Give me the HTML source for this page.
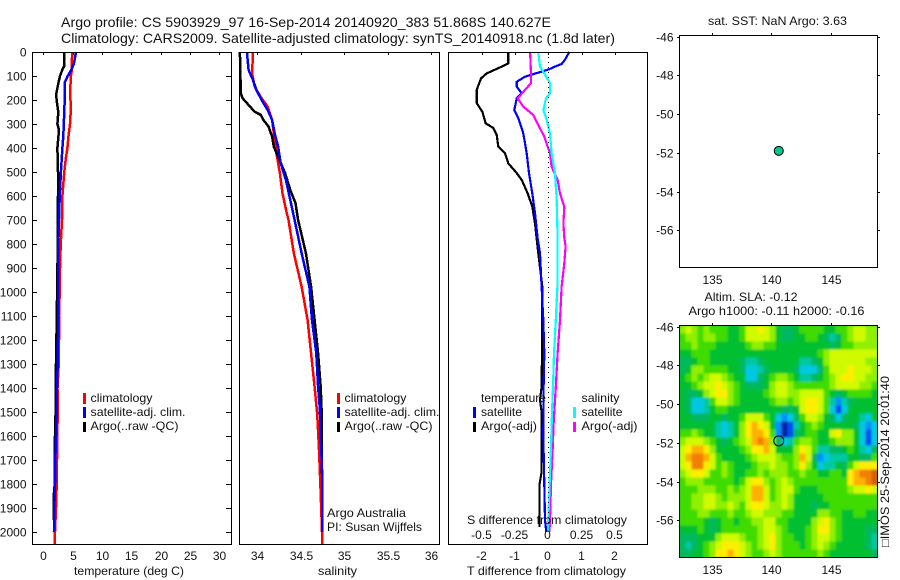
<!DOCTYPE html>
<html lang="en">
<head>
<meta charset="utf-8">
<title>Argo profile chart</title>
<style>
html,body{margin:0;padding:0;background:#fff;}
svg{display:block;font-family:"Liberation Sans",sans-serif;fill:#000;}
text{font-size:12px;fill:#111;}
.t14{font-size:14px;}
.frame{fill:none;stroke:#000;stroke-width:1;shape-rendering:crispEdges;}
.prof{fill:none;stroke-width:2.5;shape-rendering:crispEdges;stroke-linejoin:miter;}
.thin{stroke-width:2.2;}
</style>
</head>
<body>
<svg id="chart" width="900" height="580" viewBox="0 0 900 580" xmlns="http://www.w3.org/2000/svg">
<defs>
<filter id="soft" x="0" y="0" width="100%" height="100%"><feGaussianBlur stdDeviation="1.1"/></filter>
<clipPath id="mapclip"><rect x="679.5" y="325.5" width="198" height="232"/></clipPath>
</defs>

<text class="t14" x="61" y="27" textLength="490" lengthAdjust="spacingAndGlyphs">Argo profile: CS 5903929_97 16-Sep-2014 20140920_383 51.868S 140.627E</text>
<text class="t14" x="61" y="43" textLength="554" lengthAdjust="spacingAndGlyphs">Climatology: CARS2009. Satellite-adjusted climatology: synTS_20140918.nc (1.8d later)</text>

<g id="series1"></g>
<g id="series2"></g>
<g id="series3"></g>
<line x1="548.5" y1="52" x2="548.5" y2="527" stroke="#000" stroke-width="1" stroke-dasharray="1 4"/>

<g id="axes">
<rect class="frame" x="32.5" y="52.5" width="199" height="492"/>
<rect class="frame" x="239.5" y="52.5" width="200" height="492"/>
<rect class="frame" x="448.5" y="52.5" width="199" height="492"/>
</g>

<text x="74" y="575" textLength="110" lengthAdjust="spacingAndGlyphs">temperature (deg C)</text>
<text x="318" y="575" textLength="39" lengthAdjust="spacingAndGlyphs">salinity</text>
<text x="467" y="575" textLength="159" lengthAdjust="spacingAndGlyphs">T difference from climatology</text>
<text x="467" y="524" textLength="160" lengthAdjust="spacingAndGlyphs">S difference from climatology</text>

<g>
<rect x="83" y="393" width="3" height="11" fill="#f00"/>
<rect x="83" y="407" width="3" height="11" fill="#00f"/>
<rect x="83" y="422" width="3" height="10" fill="#000"/>
<text x="90.5" y="402" textLength="62" lengthAdjust="spacingAndGlyphs">climatology</text>
<text x="90.5" y="416" textLength="95" lengthAdjust="spacingAndGlyphs">satellite-adj. clim.</text>
<text x="90.5" y="430" textLength="88" lengthAdjust="spacingAndGlyphs">Argo(..raw -QC)</text>
</g>
<g>
<rect x="337" y="393" width="3" height="11" fill="#f00"/>
<rect x="337" y="407" width="3" height="11" fill="#00f"/>
<rect x="337" y="422" width="3" height="10" fill="#000"/>
<text x="344.5" y="402" textLength="62" lengthAdjust="spacingAndGlyphs">climatology</text>
<text x="344.5" y="416" textLength="95" lengthAdjust="spacingAndGlyphs">satellite-adj. clim.</text>
<text x="344.5" y="430" textLength="88" lengthAdjust="spacingAndGlyphs">Argo(..raw -QC)</text>
<text x="327" y="517" textLength="79" lengthAdjust="spacingAndGlyphs">Argo Australia</text>
<text x="327" y="531" textLength="95" lengthAdjust="spacingAndGlyphs">PI: Susan Wijffels</text>
</g>
<g>
<rect x="473" y="407" width="3" height="11" fill="#00f"/>
<rect x="473" y="422" width="3" height="10" fill="#000"/>
<rect x="573" y="407" width="3" height="11" fill="#0ff"/>
<rect x="573" y="422" width="3" height="10" fill="#f0f"/>
<text x="481" y="402" textLength="65" lengthAdjust="spacingAndGlyphs">temperature</text>
<text x="481" y="416" textLength="41" lengthAdjust="spacingAndGlyphs">satellite</text>
<text x="481" y="430" textLength="56" lengthAdjust="spacingAndGlyphs">Argo(-adj)</text>
<text x="581.5" y="402" textLength="38" lengthAdjust="spacingAndGlyphs">salinity</text>
<text x="581.5" y="416" textLength="41" lengthAdjust="spacingAndGlyphs">satellite</text>
<text x="581.5" y="430" textLength="56" lengthAdjust="spacingAndGlyphs">Argo(-adj)</text>
</g>

<text x="708" y="25" textLength="139" lengthAdjust="spacingAndGlyphs">sat. SST: NaN Argo: 3.63</text>
<rect class="frame" x="679.5" y="35.5" width="198" height="232"/>
<circle id="sstMarker" r="4.5" fill="#00c88c" stroke="#000" stroke-width="1"/>

<text x="704.5" y="301" textLength="93" lengthAdjust="spacingAndGlyphs">Altim. SLA: -0.12</text>
<text x="688.5" y="315" textLength="176" lengthAdjust="spacingAndGlyphs">Argo h1000: -0.11 h2000: -0.16</text>
<g clip-path="url(#mapclip)">
<rect x="670" y="316" width="218" height="250" fill="#00c030"/>
<g id="heat" filter="url(#soft)"></g>
</g>
<rect class="frame" x="679.5" y="325.5" width="198" height="232"/>
<circle id="slaMarker" r="5" fill="none" stroke="#000" stroke-width="1"/>
<text transform="translate(889,547) rotate(-90)" x="0" y="0" textLength="171" lengthAdjust="spacingAndGlyphs">□IMOS 25-Sep-2014 20:01:40</text>
</svg>

<script>
// ---- profile data ----
const depthTicks = [0,100,200,300,400,500,600,700,800,900,1000,1100,1200,1300,1400,1500,1600,1700,1800,1900,2000];
const tempTicks = [0,5,10,15,20,25,30];
const salTicks = [34,34.5,35,35.5,36];
const salTickLabels = ['34','34.5','35','35.5','36'];
const tDiffTicks = [-2,-1,0,1,2];
const tDiffLabels = ['-2','-1','0','1','2'];
const sDiffTicks = [-0.5,-0.25,0,0.25,0.5];
const sDiffLabels = ['-0.5','-0.25','0','0.25','0.5'];
const lonTicks = [135,140,145];
const latTicks = [-46,-48,-50,-52,-54,-56];
const argoLon = 140.627;
const argoLat = -51.868;

const tClimDepth = [0,50,80,100,150,250,300,350,400,450,500,550,600,700,800,900,1000,1100,1200,1300,1400,1500,1600,1700,1800,1900,2000,2050];
const tClimValues = [4.9,4.88,4.83,4.7,4.6,4.67,4.55,4.3,4.1,3.8,3.58,3.4,3.25,3.18,2.96,2.85,2.8,2.67,2.67,2.62,2.42,2.45,2.38,2.33,2.28,2.16,2.0,1.94];
const tSatDepth = [0,50,80,100,125,200,300,350,400,500,600,700,800,1000,1200,1300,1400,1500,1600,1700,1800,1900,2000];
const tSatValues = [5.57,5.2,4.67,4.15,3.7,3.65,3.5,3.4,3.25,3.0,2.8,2.67,2.55,2.55,2.5,2.45,2.33,2.28,2.16,2.05,2.0,1.87,1.82];
const tArgoDepth = [0,60,70,100,125,150,175,200,250,300,325,400,500,600,820,1100,1400,1500,1650,1800,1850,1950];
const tArgoValues = [3.58,3.55,3.3,2.85,2.6,2.4,2.2,2.27,2.55,2.4,2.67,2.4,2.5,2.5,2.45,2.3,2.1,2.1,1.94,1.94,1.77,1.77];

const sClimDepth = [0,89,145,188,228,283,339,422,505,589,672,700,838,978,1117,1256,1396,1508,1646,1838,2050];
const sClimValues = [33.95,33.94,33.97,34.04,34.12,34.17,34.19,34.22,34.26,34.29,34.34,34.36,34.42,34.51,34.58,34.62,34.66,34.69,34.71,34.73,34.75];
const sSatDepth = [0,75,117,158,200,242,283,339,394,464,533,617,700,838,978,1117,1256,1396,1483,1600,1783,2000];
const sSatValues = [33.88,33.9,33.95,33.99,34.05,34.12,34.17,34.2,34.24,34.27,34.33,34.38,34.43,34.51,34.6,34.63,34.68,34.7,34.72,34.73,34.75,34.75];
const sArgoDepth = [0,171,192,221,249,262,283,311,353,394,436,505,575,630,700,838,978,1117,1256,1396,1483,1700,1800,2000];
const sArgoValues = [33.8,33.81,33.83,33.9,33.97,34.04,34.07,34.13,34.17,34.19,34.24,34.32,34.38,34.44,34.47,34.56,34.62,34.66,34.7,34.73,34.74,34.74,34.75,34.75];

const dTArgoDepth = [0,47,61,89,110,158,213,249,297,317,346,394,422,464,499,533,589,644,714,775,838,978,1117,1256,1396,1450,1500,1750,1800,1979];
const dTArgoValues = [-1.2,-1.2,-1.4,-1.85,-2.02,-2.15,-2.15,-1.98,-1.88,-1.65,-1.55,-1.5,-1.3,-1.2,-0.98,-0.8,-0.62,-0.48,-0.4,-0.35,-0.3,-0.18,-0.18,-0.19,-0.2,-0.25,-0.2,-0.2,-0.26,-0.26];
const dTSatDepth = [0,33,50,61,72,82,92,103,124,144,172,193,242,275,339,422,505,589,672,775,838,978,1117,1256,1396,1600,1800,1950,2000];
const dTSatValues = [0.63,0.5,0.4,0.2,0.02,-0.2,-0.45,-0.7,-0.95,-0.95,-0.8,-0.95,-1.02,-0.9,-0.75,-0.65,-0.58,-0.48,-0.4,-0.32,-0.25,-0.2,-0.15,-0.12,-0.14,-0.15,-0.12,-0.1,-0.06];
const dSSatDepth = [0,61,89,130,172,193,242,283,339,422,505,617,775,838,978,1117,1256,1396,1500,1650,1800,1950,2000];
const dSSatValues = [-0.075,-0.062,-0.03,0.013,0.013,-0.017,-0.037,-0.012,0.013,0.025,0.05,0.063,0.07,0.07,0.068,0.056,0.043,0.035,0.028,0.02,0.01,0,-0.002];
const dSArgoDepth = [0,89,130,158,193,228,262,304,353,422,478,533,589,644,714,775,810,880,978,1117,1256,1396,1450,1550,1650,1800,1950,2000];
const dSArgoValues = [-0.137,-0.13,-0.13,-0.175,-0.23,-0.188,-0.113,-0.075,-0.03,0.013,0.025,0.07,0.088,0.12,0.113,0.12,0.13,0.12,0.1,0.088,0.07,0.056,0.05,0.04,0.033,0.02,0.013,0.008];

// ---- SLA grid: colour class per cell, north to south ----
const slaColors = ['#0020a0','#0050f0','#0090ff','#00c8e0','#00c8a0','#00b860','#00c030','#40dc00','#90f000','#d0fa00','#ffee00','#ffb000','#f08000','#d86000'];
const slaGrid = [
[8,9,8,7,8,7,7,7,6,6,7,9,9,10,9,8,6,5,5,6,7,7,7,7,6,6,7,7,8,9,9,8,8],
[7,8,8,7,8,8,7,7,6,6,7,9,9,9,9,8,6,5,5,6,6,7,7,6,5,4,5,7,8,9,9,8,8],
[7,7,8,7,7,7,6,6,6,6,6,7,8,8,7,7,6,6,6,6,6,6,6,6,6,5,6,7,7,8,8,8,8],
[6,6,7,7,7,6,6,6,6,6,6,6,6,6,6,6,6,6,6,6,6,6,6,7,8,9,9,9,9,9,9,9,9],
[5,5,6,7,7,6,6,6,6,6,5,4,4,5,6,6,6,6,6,6,4,4,5,6,8,9,9,9,9,9,9,8,8],
[5,6,8,8,7,7,7,7,6,6,5,3,3,4,5,6,6,6,6,5,3,3,3,5,7,9,9,9,10,9,9,9,8],
[6,7,8,7,8,9,9,8,7,6,6,3,3,5,6,7,8,8,7,6,4,4,5,6,7,8,9,10,10,9,9,8,8],
[6,6,7,8,9,9,10,9,8,7,6,5,5,5,6,8,9,9,8,7,7,7,7,7,7,8,9,9,9,9,8,8,7],
[6,5,5,6,8,9,10,10,8,7,6,6,6,6,7,8,9,9,8,8,9,9,9,9,7,6,5,6,7,7,7,7,6],
[6,5,3,3,4,7,9,9,8,7,6,6,6,6,6,7,8,8,7,8,9,10,10,9,7,4,2,4,5,6,6,6,6],
[6,5,3,3,4,6,7,7,6,6,6,6,6,6,6,6,6,5,5,6,9,10,10,9,7,3,1,3,6,6,6,6,6],
[6,6,5,5,5,6,6,5,6,6,7,9,9,9,7,6,3,2,3,5,7,9,9,8,6,5,3,5,6,6,4,3,6],
[6,6,6,6,6,6,4,3,4,6,8,10,11,10,9,6,2,0,1,4,6,7,8,7,6,6,6,6,6,5,3,2,3],
[7,7,8,7,6,6,4,3,4,6,8,10,11,11,10,7,2,0,1,5,6,7,7,6,6,9,10,8,8,6,3,1,3],
[8,9,9,9,8,7,6,5,6,7,8,9,11,12,11,8,5,3,4,7,8,8,7,6,6,7,8,8,8,6,3,1,3],
[9,10,11,11,10,8,6,6,6,6,7,8,10,10,11,9,6,6,6,8,10,9,7,4,4,5,5,6,7,6,4,3,5],
[9,11,12,12,11,9,7,6,6,6,6,7,8,9,9,9,8,7,7,8,11,9,5,2,3,4,4,4,6,6,5,5,7],
[9,10,12,12,10,9,7,8,7,6,6,6,7,8,8,9,8,8,7,8,10,8,6,3,4,4,6,5,7,9,10,10,10],
[8,9,10,10,9,7,7,8,7,6,6,7,7,8,7,8,8,8,7,7,8,7,7,6,6,7,7,6,10,11,12,12,13],
[7,8,8,8,7,7,7,7,7,6,7,9,10,10,8,7,8,9,8,7,7,7,7,7,7,7,7,7,10,11,11,12,13],
[7,7,7,8,8,8,7,7,8,7,8,9,11,11,9,7,8,9,9,7,6,6,6,7,7,7,7,7,8,9,9,10,9],
[7,7,8,8,9,9,8,7,8,8,8,9,11,11,9,7,8,9,8,6,6,6,6,6,7,7,7,7,7,7,7,7,7],
[7,7,8,8,9,9,8,8,9,8,7,9,10,10,9,8,8,9,8,6,6,6,5,6,6,7,7,7,7,7,7,7,7],
[7,7,7,8,8,7,7,7,8,7,7,8,9,9,8,8,8,7,7,6,6,6,6,8,8,7,7,6,6,7,7,6,6],
[7,7,7,7,6,5,6,7,7,6,7,7,8,8,9,9,7,7,6,6,6,6,8,9,10,8,7,6,6,6,6,6,6],
[6,6,6,7,6,5,6,7,7,7,7,7,7,8,9,9,8,7,6,6,6,7,8,10,10,8,7,6,6,6,6,5,5],
[5,5,5,6,6,6,8,9,9,9,8,7,7,8,9,10,8,7,7,6,6,7,8,9,9,8,7,6,6,6,6,5,4],
[5,4,5,6,7,8,9,10,10,10,9,8,7,8,9,10,8,7,7,7,6,7,8,9,8,7,6,6,6,6,6,5,4],
[5,5,6,6,7,8,10,10,11,10,9,8,7,7,8,9,8,7,7,7,7,7,7,8,7,6,6,6,6,6,6,6,5]
];

// ---- scales ----
const NS = 'http://www.w3.org/2000/svg';
const depthY = d => 52 + 0.24 * d;
const tempX = v => 43.3 + 5.87 * v;
const salX = v => 257.3 + 86.8 * (v - 34);
const dTX = v => 548.3 + 33.3 * v;
const dSX = v => 548.3 + 133.2 * v;
const lonX = v => 771.3 + 11.9 * (v - 140);
const latY = (v, top) => top + 1.6 + 19.38 * (-46 - v);

function mk(tag, parent, attrs, name) {
  const el = document.createElementNS(NS, tag);
  for (const k in attrs) el.setAttribute(k, attrs[k]);
  
  
  parent.appendChild(el);
  return el;
}
function profile(parent, xs, depths, scale, color, name, cls) {
  const pts = xs.map((v, i) => scale(v).toFixed(1) + ',' + depthY(depths[i]).toFixed(1)).join(' ');
  mk('polyline', parent, {points: pts, stroke: color, class: cls || 'prof'}, name);
}
function label(parent, x, y, str, anchor, name) {
  const t = mk('text', parent, {x: x, y: y, 'text-anchor': anchor}, name);
  t.textContent = str;
}
function tick(parent, x1, y1, x2, y2, name) {
  mk('line', parent, {x1: x1, y1: y1, x2: x2, y2: y2, stroke: '#000', 'stroke-width': 1, 'shape-rendering': 'crispEdges'}, name);
}

// ---- profiles ----
const s1 = document.getElementById('series1');
profile(s1, tClimValues, tClimDepth, tempX, '#f00', 'temperature-climatology-line');
profile(s1, tArgoValues, tArgoDepth, tempX, '#000', 'temperature-argo-line');
profile(s1, tSatValues, tSatDepth, tempX, '#00f', 'temperature-satellite-line');
const s2 = document.getElementById('series2');
profile(s2, sClimValues, sClimDepth, salX, '#f00', 'salinity-climatology-line');
profile(s2, sArgoValues, sArgoDepth, salX, '#000', 'salinity-argo-line');
profile(s2, sSatValues, sSatDepth, salX, '#00f', 'salinity-satellite-line');
const s3 = document.getElementById('series3');
profile(s3, dTArgoValues, dTArgoDepth, dTX, '#000', 't-difference-argo-line', 'prof thin');
profile(s3, dTSatValues, dTSatDepth, dTX, '#00f', 't-difference-satellite-line', 'prof thin');
profile(s3, dSArgoValues, dSArgoDepth, dSX, '#f0f', 's-difference-argo-line', 'prof thin');
profile(s3, dSSatValues, dSSatDepth, dSX, '#0ff', 's-difference-satellite-line', 'prof thin');

// ---- axes ----
const ax = document.getElementById('axes');
depthTicks.forEach(d => {
  const y = Math.round(depthY(d)) + 0.5;
  tick(ax, 32, y, 37, y, 'depth-tick-left');
  tick(ax, 226, y, 231, y, 'depth-tick-right');
  label(ax, 26.5, y + 4, String(d), 'end', 'depth-tick-label');
});
tempTicks.forEach(v => {
  const x = Math.round(tempX(v)) + 0.5;
  tick(ax, x, 52, x, 55, 'temperature-tick');
  label(ax, x, 560, String(v), 'middle', 'temperature-tick-label');
});
salTicks.forEach((v, i) => {
  const x = Math.round(salX(v)) + 0.5;
  tick(ax, x, 52, x, 55, 'salinity-tick');
  label(ax, x, 560, salTickLabels[i], 'middle', 'salinity-tick-label');
});
tDiffTicks.forEach((v, i) => {
  const x = Math.round(dTX(v)) + 0.5;
  tick(ax, x, 52, x, 55, 't-difference-tick');
  label(ax, x - 1, 560, tDiffLabels[i], 'middle', 't-difference-tick-label');
});
sDiffTicks.forEach((v, i) => {
  const x = Math.round(dSX(v)) + 0.5;
  label(ax, x - 1, 539, sDiffLabels[i], 'middle', 's-difference-tick-label');
});
[[35, 284], [325, 574]].forEach(cfg => {
  const top = cfg[0];
  lonTicks.forEach(v => {
    const x = Math.round(lonX(v)) + 0.5;
    tick(ax, x, top - 2, x, top, 'map-longitude-tick');
    label(ax, x, cfg[1], String(v), 'middle', 'map-longitude-label');
  });
  latTicks.forEach(v => {
    const y = Math.round(latY(v, top)) + 0.5;
    tick(ax, 677, y, 679, y, 'map-latitude-tick-left');
    tick(ax, 878, y, 880, y, 'map-latitude-tick-right');
    label(ax, 673.5, y + 4, String(v), 'end', 'map-latitude-label');
  });
});

// ---- heatmap ----
const heat = document.getElementById('heat');
const cellW = 198 / slaGrid[0].length;
const cellH = 232 / slaGrid.length;
slaGrid.forEach((row, r) => {
  row.forEach((v, c) => {
    const cell = document.createElementNS(NS, 'rect');
    cell.setAttribute('x', (679.5 + c * cellW).toFixed(2));
    cell.setAttribute('y', (325.5 + r * cellH).toFixed(2));
    cell.setAttribute('width', (cellW + 0.5).toFixed(2));
    cell.setAttribute('height', (cellH + 0.5).toFixed(2));
    cell.setAttribute('fill', slaColors[v]);
    
    
    heat.appendChild(cell);
  });
});

// ---- markers ----
const sstM = document.getElementById('sstMarker');
sstM.setAttribute('cx', lonX(argoLon));
sstM.setAttribute('cy', latY(argoLat, 35) + 0.5);
const slaM = document.getElementById('slaMarker');
slaM.setAttribute('cx', lonX(argoLon));
slaM.setAttribute('cy', latY(argoLat, 325) + 0.5);
</script>
</body>
</html>
